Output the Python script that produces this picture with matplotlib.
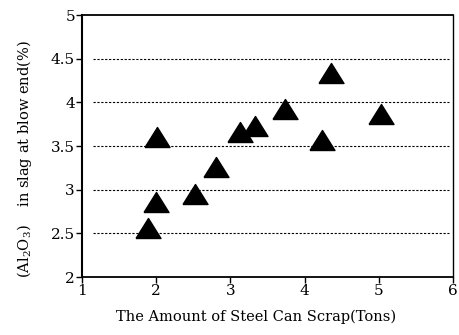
import matplotlib
matplotlib.use("Agg")
import matplotlib.pyplot as plt
import numpy as np

scrap_tons = [1.89, 2.00, 2.52, 2.80, 2.01, 3.13, 3.33, 3.73, 4.24, 4.35, 5.03]
al2o3_pct = [2.56, 2.86, 2.95, 3.26, 3.60, 3.66, 3.73, 3.93, 3.57, 4.34, 3.87]
y_ticks = [2, 2.5, 3, 3.5, 4, 4.5, 5]
y_tick_labels = ["2", "2.5", "3", "3.5", "4", "4.5", "5"]
x_ticks = [1, 2, 3, 4, 5, 6]
x_tick_labels = ["1", "2", "3", "4", "5", "6"]
grid_levels = [2.5, 3, 3.5, 4, 4.5]

plt.rcParams['font.family'] = ['DejaVu Serif']
plt.rcParams['mathtext.fontset'] = 'dejavuserif'

fig = plt.figure(figsize=(4.6, 3.35), dpi=100)
ax = fig.add_axes([0.178, 0.173, 0.807, 0.782])

for g in grid_levels:
    ax.axhline(g, xmin=0.03, xmax=0.99, color='black', lw=0.8,
               linestyle=(0, (2, 1.5)), zorder=1)

tri = [(-1, -0.8), (1, -0.8), (0, 0.8), (-1, -0.8)]
ax.plot(scrap_tons, al2o3_pct, linestyle='none', marker=tri, markersize=18,
        color='black', zorder=3)

ax.set_xlim(1, 6)
ax.set_ylim(2, 5)
ax.set_xticks(x_ticks)
ax.set_xticklabels(x_tick_labels)
ax.set_yticks(y_ticks)
ax.set_yticklabels(y_tick_labels)
ax.tick_params(axis='both', direction='out', length=4, width=1, labelsize=11,
               color='black', pad=1)
for s in ax.spines.values():
    s.set_linewidth(1.0)
ax.spines['left'].set_linewidth(1.5)
ax.spines['bottom'].set_linewidth(1.3)
ax.spines['top'].set_linewidth(1.3)

ax.set_xlabel("The Amount of Steel Can Scrap(Tons)", fontsize=10.5)
ax.xaxis.set_label_coords(0.47, -0.125)
ax.set_ylabel(r"($\mathrm{Al_2O_3}$)    in slag at blow end(%)", fontsize=10.5)
ax.yaxis.set_label_coords(-0.13, 0.45)

fig.savefig("out.png", dpi=100)
